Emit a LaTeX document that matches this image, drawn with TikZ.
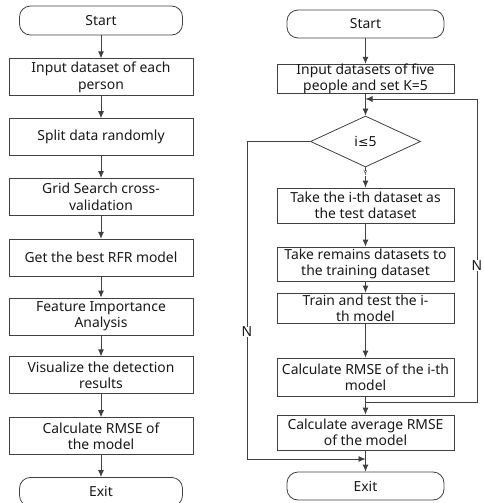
\documentclass[tikz,border=0pt]{standalone}
\usepackage{fontspec}
\setmainfont{Noto Sans}
\newfontfamily\symfont{DejaVu Sans}
\usetikzlibrary{positioning,arrows.meta,shapes.geometric}

\begin{document}
\begin{tikzpicture}[
  x=1pt, y=1pt,
  font=\fontsize{13.9}{16.3}\selectfont,
  line width=0.8pt,
  every node/.style={text=black!90},
  term/.style={draw=black!75, rounded corners=11pt, align=center, minimum width=163pt, minimum height=29pt, inner sep=1pt},
  box/.style={draw=black!75, align=center, minimum width=184pt, minimum height=37pt, inner sep=0.5pt},
  rterm/.style={term, minimum width=157pt, minimum height=28pt},
  rbox/.style={box, minimum width=177pt, font=\fontsize{13.9}{15.6}\selectfont, inner sep=0pt},
  cond/.style={draw=black!75, diamond, minimum width=110pt, minimum height=51pt, inner sep=0pt},
  arr/.style={draw=black!75, -{Latex[length=7pt,width=6pt]}},
  lab/.style={fill=white, inner sep=0.5pt},
  tiny/.style={font=\fontsize{6.5}{7}\selectfont, fill=white, inner sep=0.5pt},
]
\useasboundingbox (0,0) rectangle (484,-503);
% Left: one person
\node[term] (LS) at (101,-20.5) {Start};
\node[box, below=23pt of LS] (L1) {Input dataset of each\\person};
\node[box, below=22pt of L1] (L2) {Split data randomly};
\node[box, below=22pt of L2] (L3) {Grid Search cross-\\validation};
\node[box, below=23pt of L3] (L4) {Get the best RFR model};
\node[box, below=21pt of L4] (L5) {Feature Importance\\Analysis};
\node[box, below=21pt of L5] (L6) {Visualize the detection\\results};
\node[box, below=23pt of L6] (L7) {Calculate RMSE of\\the model};
\node[term, below=22pt of L7] (LE) {Exit};
\draw[arr] (LS) -- (L1);
\draw[arr] (L1) -- (L2);
\draw[arr] (L2) -- (L3);
\draw[arr] (L3) -- (L4);
\draw[arr] (L4) -- (L5);
\draw[arr] (L5) -- (L6);
\draw[arr] (L6) -- (L7);
\draw[arr] (L7) -- (LE);
% Right: K-fold over five people
\node[rterm] (RS) at (365.5,-24) {Start};
\node[rbox, minimum height=28pt] (RI) at (365.5,-79) {Input datasets of five\\people and set K=5};
\node[cond] (RD) at (365.5,-141.5) {i{\symfont\fontsize{12.5}{14}\selectfont ≤}5};
\node[rbox, minimum height=35pt] (RT) at (365.5,-205.5) {Take the i-th dataset as\\the test dataset};
\node[rbox, minimum height=34pt] (RR) at (365.5,-264) {Take remains datasets to\\the training dataset};
\node[rbox, minimum height=30pt] (RN) at (365.5,-308) {Train and test the i-\\th model};
\node[rbox, minimum height=38pt] (RC) at (365.5,-377) {Calculate RMSE of the i-th\\model};
\node[rbox, minimum height=35pt] (RA) at (365.5,-432.5) {Calculate average RMSE\\of the model};
\node[rterm] (RE) at (365.5,-486) {Exit};
\coordinate (top) at (365.5,-99);
\coordinate (jn) at (365.5,-402);
\coordinate (bot) at (365.5,-459);
\coordinate (rx) at (477,-402);
\coordinate (lx) at (247,-141.5);
\draw[arr] (RS) -- (RI);
\draw[arr] (RI) -- (RD);
\draw[arr] (RD) -- node[tiny, pos=0.3]{Y} (RT);
\draw[arr] (RT) -- (RR);
\draw[arr] (RR) -- (RN);
\draw[arr] (RN) -- (RC);
\draw[arr] (RC) -- (RA);
\draw[arr] (RA) -- (RE);
\draw[arr] (jn) -- (rx) -- node[lab, pos=0.45]{N} (top -| rx) -- (top);
\draw[arr] (RD.west) -- (lx) -- node[lab, pos=0.6]{N} (bot -| lx) -- (bot);
\end{tikzpicture}
\end{document}
